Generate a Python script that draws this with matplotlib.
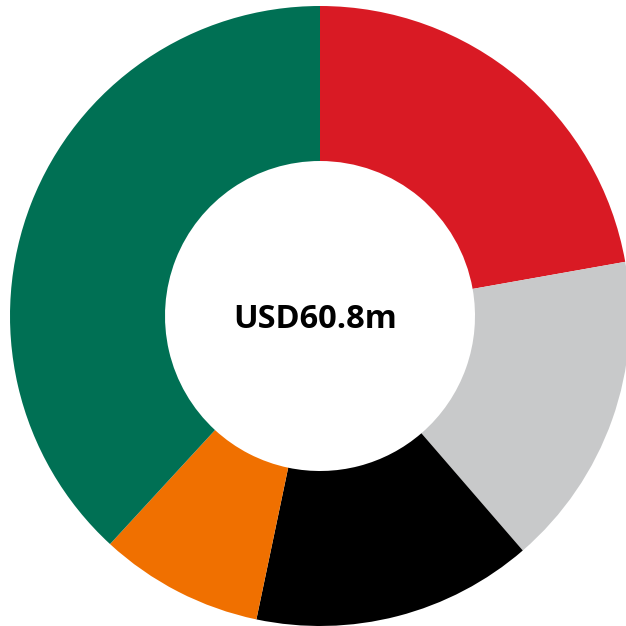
import matplotlib
matplotlib.use("Agg")
import matplotlib.pyplot as plt

labels = ["Red", "Grey", "Black", "Orange", "Green"]
values = [13.5, 10.0, 8.9, 5.2, 23.2]
colors = ["#D91A24", "#C8C9CA", "#000000", "#F07000", "#007054"]
center_text = "USD60.8m"

fig = plt.figure(figsize=(6.26, 6.26), dpi=100)
ax = fig.add_axes([0, 0, 1, 1])
ax.pie(values, colors=colors, startangle=90, counterclock=False,
       radius=310, center=(0, 0), wedgeprops=dict(width=155, linewidth=0),
       frame=True)
ax.set_xlim(-320, 306)
ax.set_ylim(-310, 316)
ax.set_aspect("equal")
ax.axis("off")
ax.text(-5, -4, center_text, ha="center", va="center", fontsize=23.5,
        fontweight="bold", family=["Open Sans", "DejaVu Sans"])
fig.savefig("out.png", dpi=100)
